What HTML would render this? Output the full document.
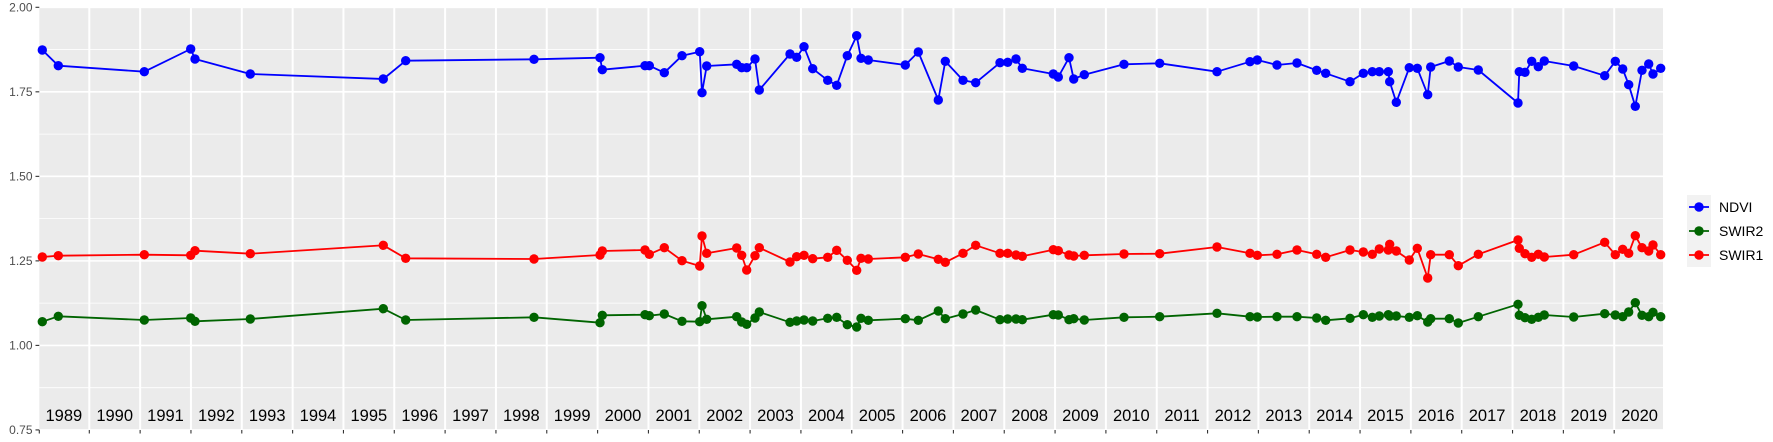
<!DOCTYPE html>
<html><head><meta charset="utf-8"><style>
html,body{margin:0;padding:0;background:#fff;}
svg{display:block;font-family:"Liberation Sans",sans-serif;}
</style></head><body>
<svg id="s" width="1773" height="442" xmlns="http://www.w3.org/2000/svg">
<rect x="39.3" y="7.3" width="1623.7" height="422.7" fill="#ebebeb"/>
<g id="grid"></g>
<g id="series"></g>
<g id="axes"></g>
<g id="legend">
<rect x="1687" y="195" width="24" height="72" fill="#f2f2f2"/>
<line x1="1689" y1="207" x2="1709" y2="207" stroke="#0000ff" stroke-width="1.8"/>
<circle cx="1699" cy="207" r="4.7" fill="#0000ff"/>
<line x1="1689" y1="231" x2="1709" y2="231" stroke="#006400" stroke-width="1.8"/>
<circle cx="1699" cy="231" r="4.7" fill="#006400"/>
<line x1="1689" y1="255" x2="1709" y2="255" stroke="#ff0000" stroke-width="1.8"/>
<circle cx="1699" cy="255" r="4.7" fill="#ff0000"/>
<text x="1719" y="212" font-size="14" fill="#000">NDVI</text>
<text x="1719" y="236" font-size="14" fill="#000">SWIR2</text>
<text x="1719" y="260" font-size="14" fill="#000">SWIR1</text>
</g>
</svg>
<script>
var NS="http://www.w3.org/2000/svg";
function el(p,t,a,txt){var e=document.createElementNS(NS,t);for(var k in a)e.setAttribute(k,a[k]);if(txt!==undefined)e.textContent=txt;document.getElementById(p).appendChild(e);return e;}
var L=39.3,R=1663,T=7.3,B=430;
function yv(v){return T+(2-v)*338.1;}
// minor horizontal
[1.875,1.625,1.375,1.125,0.875].forEach(function(v){el("grid","line",{x1:L,x2:R,y1:yv(v),y2:yv(v),stroke:"#fff","stroke-width":0.8});});
[2,1.75,1.5,1.25,1.0,0.75].forEach(function(v){el("grid","line",{x1:L,x2:R,y1:yv(v),y2:yv(v),stroke:"#fff","stroke-width":1.6});
 el("axes","line",{x1:35.5,x2:39.3,y1:yv(v),y2:yv(v),stroke:"#333","stroke-width":1.1});
 el("axes","text",{x:32.5,y:yv(v)+4,"font-size":12,fill:"#4d4d4d","text-anchor":"end"},v.toFixed(2));});
for(var k=0;k<=30;k++){var x=89.3+k*50.83;
 el("grid","line",{x1:x,x2:x,y1:T,y2:B,stroke:"#fff","stroke-width":2});
 el("axes","line",{x1:x,x2:x,y1:B,y2:B+3.5,stroke:"#333","stroke-width":1.1});}
for(var yr=1989;yr<=2020;yr++){var cx=89.3+(yr-1990)*50.83+25.4;
 el("axes","text",{x:cx,y:421,"font-size":16.5,fill:"#000","text-anchor":"middle"},String(yr));}
el("axes","line",{x1:39.3,x2:39.3,y1:B,y2:B+3.5,stroke:"#333","stroke-width":1.1});
// data in zoom coords: [offsetX, [zx...], nd[], s1[], s2[]]
var chunks=[
[39,[10,58,316,455,468,634,1033,1100],
 [90,137,155,87,117,162,177,122],
 [711,707,704,706,692,701,676,715],
 [905,889,900,894,904,897,866,900]],
[440,[282,480,487,615,628,673,726,779,786,800,890,905,920,945,958,1050,1070,1092,1118,1163,1190,1222],
 [118,113,149,137,137,158,107,95,218,138,133,143,143,117,210,102,112,80,146,181,196,107],
 [717,705,693,690,703,683,722,738,648,700,684,706,750,707,683,726,710,706,716,712,691,721],
 [892,908,886,884,887,882,904,905,857,898,890,906,913,894,876,907,903,900,903,895,892,914]],
[840,[50,63,85,196,235,295,316,369,407,480,503,528,547,640,655,687,701,733,852,959,1131,1230],
 [47,115,120,135,96,240,124,181,188,128,127,117,145,162,171,113,177,164,133,130,155,125],
 [751,715,717,712,702,718,727,700,676,700,700,705,709,689,692,705,708,706,702,701,681,700],
 [921,895,901,896,901,873,896,882,870,899,897,897,899,884,885,899,896,900,892,890,880,890]],
[1240,[52,111,171,230,257,330,370,397,418,445,449,469,508,532,563,572,628,655,715,834,838,855,875,895,913,1001,1094,1126,1148,1166,1186,1206,1226,1239,1262],
 [120,135,129,151,160,185,160,155,155,155,185,247,143,145,224,141,123,141,150,249,155,157,124,140,123,138,167,124,147,194,259,151,132,162,145],
 [706,703,690,703,712,690,696,703,687,690,673,693,720,685,774,704,704,737,703,660,685,701,712,703,711,704,667,704,688,700,647,683,693,675,704],
 [891,890,890,894,901,895,884,892,888,884,888,888,892,887,906,896,896,909,890,853,886,893,898,892,885,891,881,885,890,876,848,886,890,877,890]]
];
var S=[[],[],[]];
chunks.forEach(function(c){c[1].forEach(function(zx,i){var x=c[0]+zx/3;
 S[0].push([x,20+c[2][i]/3]);S[1].push([x,20+c[3][i]/3]);S[2].push([x,20+c[4][i]/3]);});});
var cols=["#0000ff","#ff0000","#006400"];
[2,1,0].forEach(function(si){var pts=S[si];
 el("series","polyline",{points:pts.map(function(p){return p[0].toFixed(1)+","+p[1].toFixed(1);}).join(" "),fill:"none",stroke:cols[si],"stroke-width":1.8,"stroke-linejoin":"round"});
 pts.forEach(function(p){el("series","circle",{cx:p[0].toFixed(1),cy:p[1].toFixed(1),r:4.7,fill:cols[si]});});});
</script>
</body></html>
